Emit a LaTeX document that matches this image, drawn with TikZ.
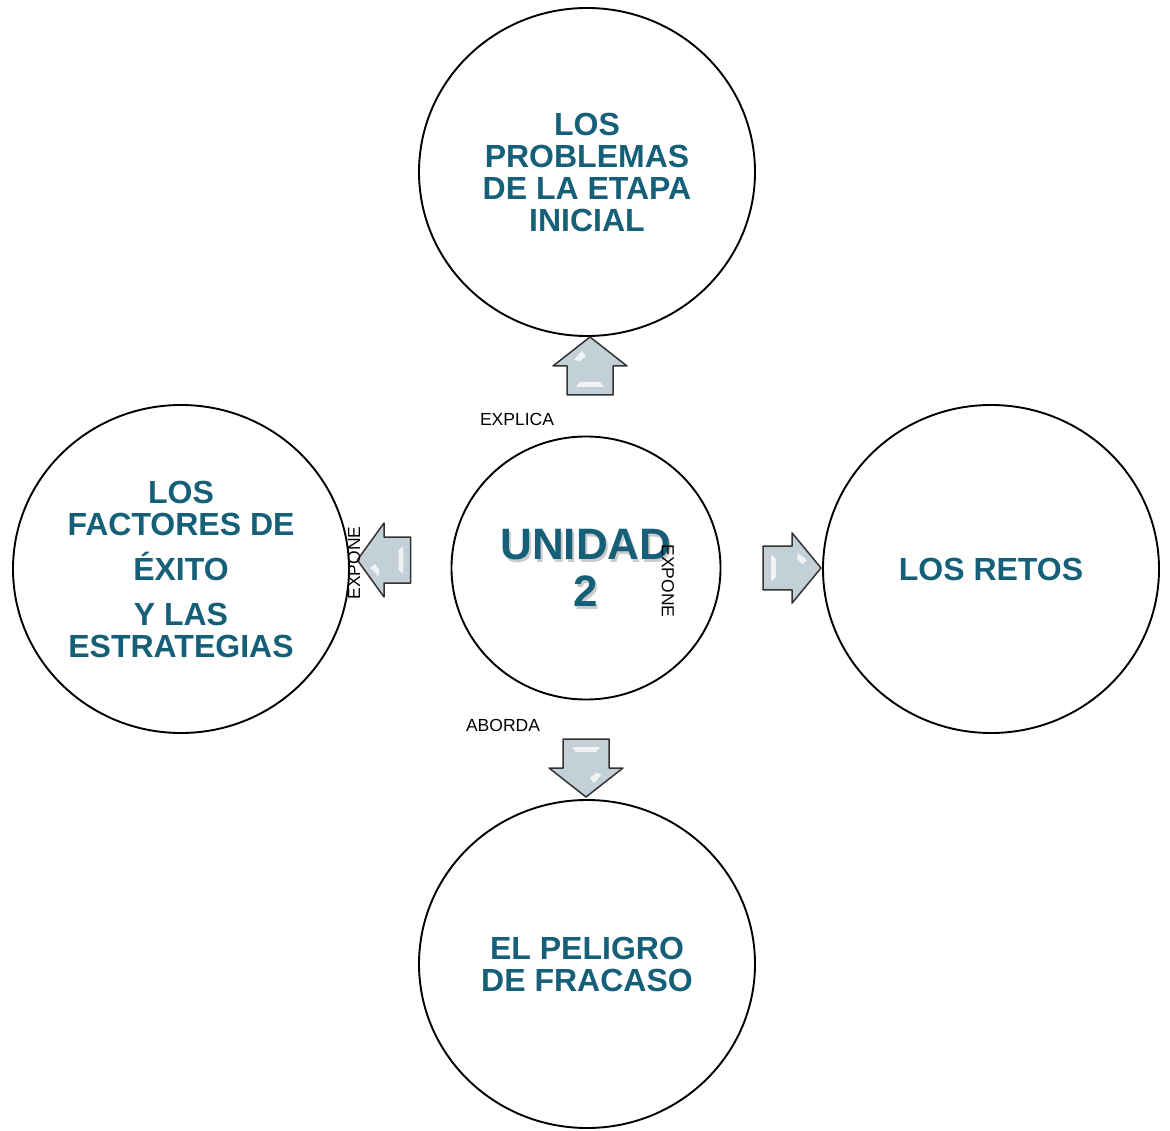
\documentclass[tikz,border=0pt]{standalone}
\usepackage{fontspec}
\setmainfont{Liberation Sans}
\usetikzlibrary{shapes.geometric}
\definecolor{tituloazul}{RGB}{22,95,120}
\definecolor{flechagris}{RGB}{196,208,215}
\tikzset{
  tema/.style={ellipse,draw,line width=1.9pt,minimum width=336pt,minimum height=328pt,
    align=center,text=tituloazul,font=\fontsize{32}{32}\selectfont\bfseries},
  centro/.style={ellipse,draw,line width=1.9pt,minimum width=269pt,minimum height=263pt},
  titulo/.style={align=center,text=tituloazul,font=\fontsize{44}{47}\selectfont\bfseries},
  sombra/.style={titulo,text=black,opacity=0.2},
  verbo/.style={font=\fontsize{17.5}{20}\selectfont},
  pics/flecha/.style={code={
    \draw[draw=black!80,line width=1.5pt,line join=round,fill=flechagris]
      (-29,-23) -- (0,-23) -- (0,-37) -- (29,0) -- (0,37) -- (0,23) -- (-29,23) -- cycle;
    \fill[white,opacity=0.75] (-21,-14) -- (-16,-10) -- (-16,10) -- (-21,14) -- cycle;
    \fill[white,opacity=0.75] (6,-16) -- (15,-8) -- (10,-4) -- (5,-10) -- cycle;
  }}
}
\begin{document}
\begin{tikzpicture}[x=1pt,y=-1pt]
  \useasboundingbox (0,0) rectangle (1170,1131);
  \node[tema] (problemas) at (587,172) {LOS\\PROBLEMAS\\DE LA ETAPA\\INICIAL};
  \node[tema] (factores) at (181,569) {LOS\\FACTORES DE\\[13pt]ÉXITO\\[13pt]Y LAS\\ESTRATEGIAS};
  \node[tema] (retos) at (991,569) {LOS RETOS};
  \node[tema] (peligro) at (587,964) {EL PELIGRO\\DE FRACASO};
  \node[centro] (unidad) at (586,568) {};
  \node[sombra] (sombraunidad) at (588,571) {UNIDAD\\2};
  \node[titulo] (textounidad) at (unidad) {UNIDAD\\2};
  \pic[rotate=90] (flechaarriba) at (590,366) {flecha};
  \pic[rotate=180,xscale=0.92] (flechaizq) at (384,560) {flecha};
  \pic[rotate=0,yscale=0.95] (flechader) at (792,568) {flecha};
  \pic[rotate=270] (flechaabajo) at (586,768) {flecha};
  \node[verbo] (explica) at (517,419) {EXPLICA};
  \node[verbo] (aborda) at (503,725) {ABORDA};
  \node[verbo,rotate=-90] (exponeder) at (668,581) {EXPONE};
  \node[verbo,rotate=90] (exponeizq) at (354,563) {EXPONE};
\end{tikzpicture}
\end{document}
